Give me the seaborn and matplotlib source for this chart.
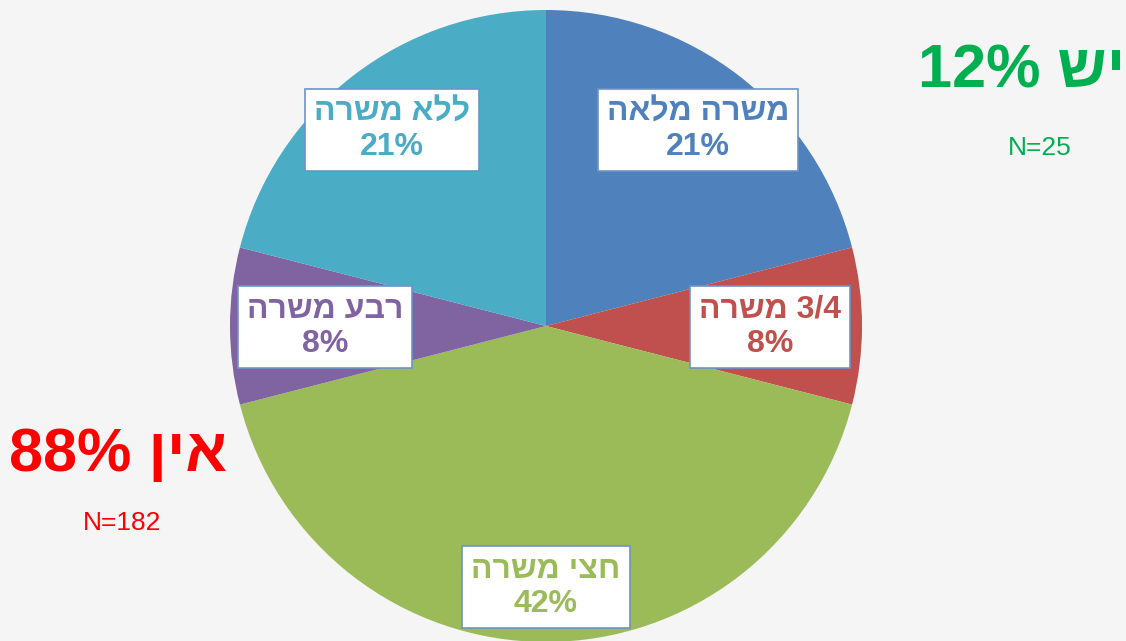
import matplotlib
matplotlib.use("Agg")
import matplotlib.pyplot as plt
import seaborn as sns
import unicodedata

# ---- data ----
categories = ["משרה מלאה", "3/4 משרה", "חצי משרה", "רבע משרה", "ללא משרה"]
values = [21, 8, 42, 8, 21]
slice_colors = ["#4F81BD", "#C0504D", "#9BBB59", "#8064A2", "#4BACC6"]
summary_labels = ["יש 12%", "אין 88%"]
summary_n = ["N=25", "N=182"]
summary_colors = ["#00B050", "#FF0000"]

W, H = 1126, 641


def is_rtl(ch):
    return unicodedata.bidirectional(ch) in ("R", "AL")


def visual(line):
    """Convert a logical RTL line into visual left-to-right order."""
    rev = line[::-1]
    out, run = [], []
    for ch in rev:
        if is_rtl(ch) or ch == " ":
            if run:
                out.append("".join(run[::-1]))
                run = []
            out.append(ch)
        else:
            run.append(ch)
    if run:
        out.append("".join(run[::-1]))
    return "".join(out)


def vis(text):
    return "\n".join(visual(l) for l in text.split("\n"))


sns.set_theme(style="white")
plt.rcParams["font.family"] = ["Liberation Sans", "DejaVu Sans"]

fig = plt.figure(figsize=(W / 100, H / 100), dpi=100, facecolor="#F5F5F5")
ax = fig.add_axes([0, 0, 1, 1])
ax.set_facecolor("#F5F5F5")

cx, cy, r = 546, H - 326, 316
wedges, _ = ax.pie(values, colors=slice_colors, startangle=90, counterclock=False,
                   center=(cx, cy), radius=r, frame=True,
                   wedgeprops=dict(linewidth=0))
ax.set_xlim(0, W)
ax.set_ylim(0, H)
ax.set_aspect("equal")
ax.axis("off")

# label boxes (pixel positions of box centres)
label_pos = [(698, 130), (770, 327), (546, 587), (325, 327), (392, 130)]
for cat, v, col, (px, py) in zip(categories, values, slice_colors, label_pos):
    ax.text(px, H - py, vis(f"{cat}\n{v}%"), ha="center", va="center",
            fontsize=23, fontweight="bold", color=col, linespacing=1.2,
            bbox=dict(boxstyle="square,pad=0.28", facecolor="white",
                      edgecolor="#6E93C8", linewidth=1.2))

# summary texts
sum_pos = [(1022, 72), (118, 455)]
n_pos = [(1040, 148), (122, 523)]
for lab, n, col, (px, py), (nx, ny) in zip(summary_labels, summary_n, summary_colors,
                                            sum_pos, n_pos):
    ax.text(px, H - py, vis(lab), ha="center", va="center", fontsize=44,
            fontweight="bold", color=col)
    ax.text(nx, H - ny, n, ha="center", va="center", fontsize=19, color=col)

fig.savefig("out.png", dpi=100, facecolor=fig.get_facecolor())
